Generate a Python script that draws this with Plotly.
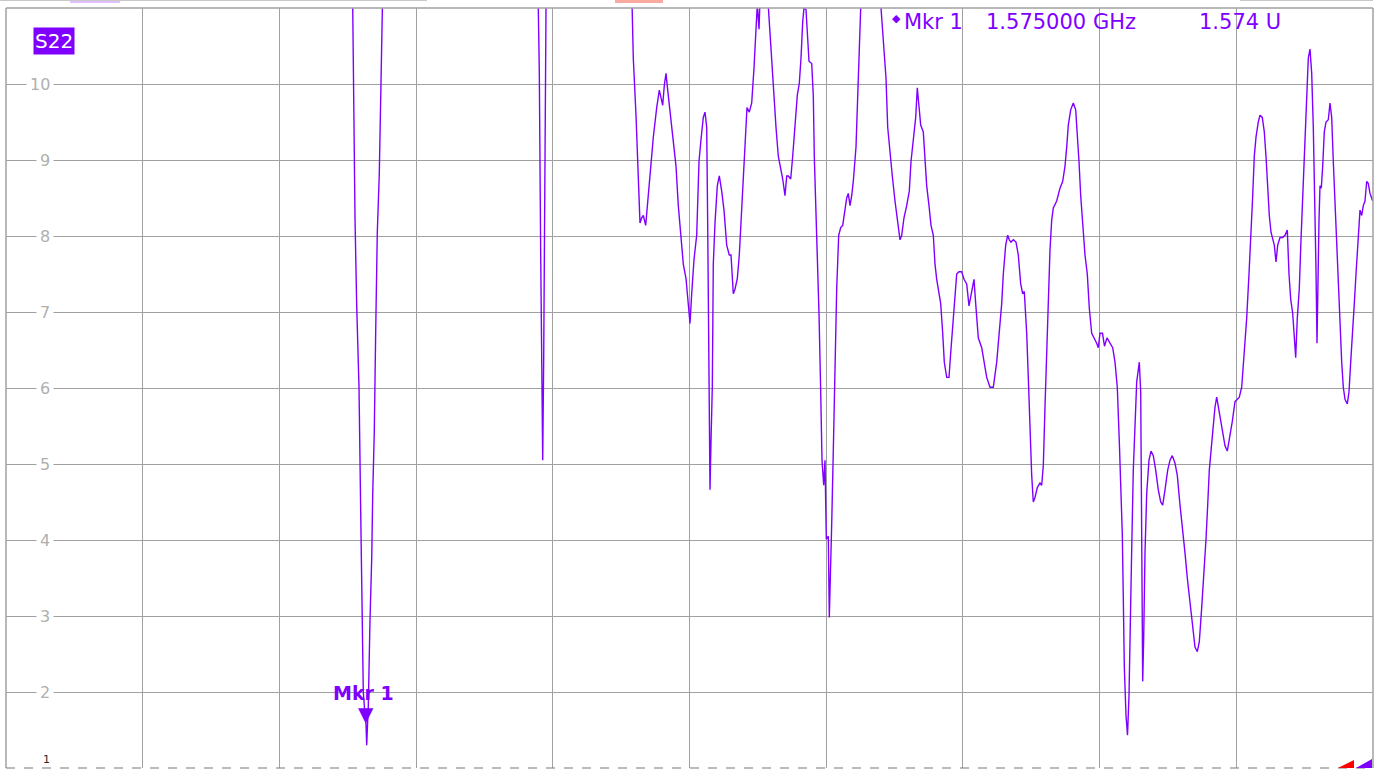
import plotly.graph_objects as go

# ---- data (frequency in MHz, S22 in U) ----
freq_mhz = [
    855, 1500, 1546,
    1548.4, 1549.6, 1553, 1556.4, 1561, 1564.4, 1567.6, 1569.6, 1573, 1575, 1576.4,
    1579.6, 1583, 1586.4, 1588.4, 1591.6, 1594.4, 1597.6, 1601.6, 1604.4, 1607.6,
    1612, 1700, 1860, 1916,
    1919.6, 1921.6, 1924.4, 1927, 1928.4, 1930.4, 1932.4, 1935,
    1940, 2050, 2102,
    2106.4, 2109.6, 2115, 2119.6, 2123, 2126.4, 2129.6, 2134.4, 2138.4, 2144.4,
    2149.6, 2156.4, 2161.6, 2165, 2168.4, 2171.6, 2175, 2178.4, 2183, 2188.4,
    2195, 2199.6, 2205, 2209.6, 2215, 2219.6, 2223, 2226.4, 2231, 2236.4,
    2241, 2245, 2249.6, 2253, 2256.4, 2258.4, 2261, 2263, 2265, 2267.6,
    2269.6, 2273, 2277.6, 2281.6, 2286.4, 2291, 2296.4, 2301.6, 2305, 2309.6,
    2313, 2317.6, 2321.6, 2326.4, 2331.6, 2337, 2341.6, 2346.4, 2351, 2355,
    2357.6, 2361, 2365, 2375, 2379.6, 2384.4, 2389.6, 2395, 2399.6, 2404.4,
    2408.4, 2413, 2416.4, 2419.6, 2424.4, 2428.4, 2433, 2437.6, 2441.6, 2445,
    2448.4, 2451, 2455, 2457.6, 2461, 2466.4, 2469.6, 2471.6, 2475, 2477.6,
    2481, 2484.4, 2487, 2490.4, 2493, 2495.6, 2499.6, 2501.6, 2503.6, 2506.4,
    2509.6, 2513, 2516.4, 2520.4, 2524.4, 2528.4, 2533, 2536.4, 2539.6, 2543,
    2546.4, 2549.6, 2555, 2558.4, 2561, 2564.4, 2572, 2596,
    2605, 2609.6, 2615, 2618.4, 2623, 2627.6, 2633, 2637.6, 2643, 2646.4,
    2651, 2656.4, 2661.6, 2665, 2669.6, 2674.4, 2677.6, 2680.4, 2684.4, 2689.6,
    2693, 2696.4, 2701, 2705, 2709.6, 2713, 2716.4, 2721, 2724.4, 2728.4,
    2731.6, 2736.4, 2741, 2744.4, 2748.4, 2753, 2756.4, 2761, 2766.4, 2771,
    2776.4, 2781, 2786.4, 2791, 2794.4, 2799.6, 2806.4, 2811, 2816.4, 2823,
    2829.6, 2836.4, 2841.6, 2846.4, 2849.6, 2854.4, 2858.4, 2861.6, 2865, 2869.6,
    2875, 2879.6, 2884.4, 2888.4, 2891.6, 2896.4, 2899.6, 2903, 2906.4, 2909.6,
    2913, 2917.6, 2923, 2926.4, 2929.6, 2933, 2936.4, 2939.6, 2943, 2946.4,
    2949.6, 2956.4, 2963, 2968.4, 2973, 2976.4, 2979.6, 2984.4, 2989.6, 2994.4,
    2997.6, 3001, 3004.4, 3008.4, 3013, 3017.6, 3021.6, 3026.4, 3031.6, 3036.4,
    3039.6, 3043, 3048, 3052, 3057, 3063, 3068.4, 3073, 3077.6, 3081.6,
    3085, 3087.6, 3089.6, 3091.6, 3095, 3098, 3101, 3103, 3106.4, 3109.6,
    3113, 3116.4, 3119, 3121.6, 3124.4, 3126.4, 3128.4, 3130.4, 3133, 3136.4,
    3141, 3145, 3149.6, 3154.4, 3159.6, 3164.4, 3168.4, 3173, 3178.4, 3183,
    3187.6, 3193, 3197.6, 3203, 3208.4, 3213, 3217.6, 3223, 3228.4, 3233,
    3237.6, 3241.6, 3246.4, 3251, 3255, 3258.4, 3261.6, 3265, 3269.6, 3273,
    3276.4, 3281, 3286.4, 3293, 3297.6, 3303, 3307.6, 3313, 3317.6, 3321.6,
    3326.4, 3331, 3336.4, 3341, 3345, 3348.4, 3351.6, 3355, 3359.6, 3363,
    3367.6, 3371.6, 3375, 3378.4, 3381.6, 3385, 3388.4, 3391.6, 3395, 3398.4,
    3403, 3408.4, 3413, 3417.6, 3421, 3424.4, 3428.4, 3431.6, 3434.4, 3437.6,
    3441.6, 3445, 3449.6, 3453, 3456.4, 3459.6, 3463, 3466.4, 3469.6, 3473,
    3475, 3477, 3479, 3481, 3483, 3485.6, 3488.4, 3491.6, 3495, 3499.6,
    3503, 3506.4, 3509.6, 3513, 3516.4, 3519.6, 3523, 3526.4, 3529.6, 3533,
    3537.6, 3541, 3544.4, 3548.4, 3551.6, 3555, 3559.6, 3563, 3566.4, 3569.6,
    3573, 3576.4, 3579.6, 3583, 3588.4,
]

s22_u = [
    13.5, 13.5, 12.5,
    11.0, 9.53, 8.24, 7.08, 6.01, 4.37, 2.88, 2.0, 1.7, 1.574, 1.30,
    1.82, 2.95, 3.75, 4.59, 5.43, 6.75, 8.05, 8.82, 9.85, 11.0,
    12.5, 13.5, 13.5, 12.5,
    11.0, 10.17, 7.75, 6.4, 5.05, 6.4, 9.17, 11.0,
    12.5, 13.5, 12.5,
    11.0, 10.34, 9.59, 8.75, 8.17, 8.24, 8.27, 8.14, 8.46, 8.98,
    9.30, 9.69, 9.92, 9.82, 9.72, 9.98, 10.14, 9.92, 9.63, 9.30,
    8.92, 8.40, 7.95, 7.63, 7.44, 7.11, 6.85, 7.24, 7.69, 8.01,
    8.98, 9.27, 9.56, 9.63, 9.43, 8.14, 5.95, 4.66, 5.30, 6.01,
    7.63, 8.17, 8.66, 8.79, 8.59, 8.34, 7.88, 7.75, 7.75, 7.24,
    7.30, 7.44, 7.75, 8.34, 8.92, 9.69, 9.63, 9.75, 10.21, 10.82,
    11.05, 10.72, 11.5, 11.5, 11.0, 10.45, 10.01, 9.43, 9.05, 8.88,
    8.75, 8.53, 8.79, 8.79, 8.75, 9.05, 9.50, 9.85, 10.01, 10.34,
    10.82, 11.0, 10.98, 10.72, 10.30, 10.27, 9.85, 9.05, 8.40, 7.63,
    6.98, 5.95, 5.05, 4.72, 5.05, 4.01, 4.05, 2.98, 3.43, 4.21,
    5.17, 6.34, 7.31, 8.01, 8.11, 8.14, 8.34, 8.50, 8.56, 8.40,
    8.53, 8.72, 9.17, 9.82, 10.53, 11.0, 12.0, 12.0,
    11.0, 10.59, 10.08, 9.43, 9.05, 8.79, 8.46, 8.21, 7.95, 8.01,
    8.24, 8.40, 8.59, 8.98, 9.30, 9.56, 9.95, 9.75, 9.46, 9.37,
    8.98, 8.66, 8.40, 8.14, 8.01, 7.63, 7.43, 7.24, 7.11, 6.72,
    6.34, 6.14, 6.14, 6.46, 6.85, 7.30, 7.50, 7.53, 7.53, 7.43,
    7.37, 7.08, 7.30, 7.43, 7.11, 6.66, 6.53, 6.34, 6.14, 6.01,
    6.01, 6.34, 6.72, 7.11, 7.50, 7.88, 8.01, 7.95, 7.92, 7.95,
    7.92, 7.75, 7.37, 7.24, 7.27, 6.72, 6.14, 5.43, 4.85, 4.50,
    4.56, 4.69, 4.75, 4.72, 4.98, 5.75, 6.53, 7.37, 7.82, 8.21,
    8.37, 8.46, 8.63, 8.72, 8.92, 9.17, 9.46, 9.66, 9.75, 9.66,
    9.37, 8.98, 8.53, 8.14, 7.75, 7.50, 7.05, 6.72, 6.66, 6.59,
    6.53, 6.72, 6.72, 6.55, 6.66, 6.59, 6.53, 6.34, 6.01, 5.30,
    4.66, 4.08, 3.24, 2.34, 1.69, 1.43, 1.95, 2.86, 3.88, 4.92,
    5.56, 6.08, 6.21, 6.34, 5.95, 3.83, 2.14, 2.72, 3.83, 4.61,
    5.05, 5.17, 5.11, 4.92, 4.66, 4.50, 4.46, 4.66, 4.92, 5.05,
    5.11, 5.01, 4.85, 4.46, 4.14, 3.83, 3.50, 3.17, 2.79, 2.59,
    2.53, 2.66, 3.11, 3.56, 4.01, 4.46, 4.92, 5.17, 5.50, 5.75,
    5.88, 5.69, 5.50, 5.24, 5.17, 5.37, 5.56, 5.82, 5.85, 5.88,
    6.01, 6.40, 6.92, 7.50, 8.01, 8.53, 9.05, 9.30, 9.50, 9.59,
    9.56, 9.37, 9.05, 8.59, 8.27, 8.05, 7.95, 7.88, 7.66, 7.88,
    7.98, 7.98, 8.01, 8.08, 7.50, 7.17, 6.98, 6.59, 6.40, 6.92,
    7.31, 7.95, 8.66, 9.24, 9.82, 10.34, 10.46, 10.14, 9.43, 8.40,
    7.56, 6.59, 7.75, 8.21, 8.66, 8.63, 8.92, 9.37, 9.50, 9.53,
    9.75, 9.56, 8.98, 8.40, 7.88, 7.30, 6.72, 6.34, 6.01, 5.85,
    5.79, 5.95, 6.34, 6.72, 7.11, 7.50, 7.95, 8.34, 8.27, 8.40,
    8.46, 8.72, 8.69, 8.56, 8.46,
]

start_mhz = 855
stop_mhz = 3589
y_min = 1
y_max = 11
y_tick_values = [2, 3, 4, 5, 6, 7, 8, 9, 10]
y_tick_labels = ["2", "3", "4", "5", "6", "7", "8", "9", "10"]

marker_freq_mhz = 1575
marker_value = 1.574
marker_freq_text = "1.575000 GHz"
marker_value_text = "1.574 U"

PURPLE = "rgb(128,0,255)"
GRID = "rgb(160,160,160)"
FONT = "DejaVu Sans"

fig = go.Figure()
fig.add_trace(go.Scatter(
    x=freq_mhz, y=s22_u, mode="lines",
    line=dict(color=PURPLE, width=1.4),
    hoverinfo="skip", showlegend=False,
))

W, H = 1386, 769
ml, mr, mt, mb = 6, 13, 8, 1
pw = W - ml - mr
ph = H - mt - mb

def px_x(p):
    return (p - ml) / pw

fig.update_layout(
    width=W, height=H,
    margin=dict(l=ml, r=mr, t=mt, b=mb, pad=0),
    paper_bgcolor="white", plot_bgcolor="white",
    showlegend=False,
    xaxis=dict(range=[start_mhz, stop_mhz], tick0=start_mhz,
               dtick=(stop_mhz - start_mhz) / 10, showticklabels=False,
               showgrid=True, gridcolor=GRID, gridwidth=1.4,
               zeroline=False, showline=False, fixedrange=True),
    yaxis=dict(range=[y_min, y_max], tick0=y_min, dtick=1,
               showticklabels=False, showgrid=True, gridcolor=GRID,
               gridwidth=1.4, zeroline=False, showline=False, fixedrange=True),
)

shapes = [
    dict(type="line", xref="paper", yref="paper", x0=0, x1=0, y0=0, y1=1,
         line=dict(color=GRID, width=1.5)),
    dict(type="line", xref="paper", yref="paper", x0=1, x1=1, y0=0, y1=1,
         line=dict(color=GRID, width=1.5)),
    dict(type="line", xref="paper", yref="paper", x0=0, x1=1, y0=1, y1=1,
         line=dict(color=GRID, width=1.5)),
    dict(type="line", xref="paper", yref="paper", x0=0, x1=1, y0=0, y1=0,
         line=dict(color="rgb(120,120,120)", width=1.2, dash="dash")),
    # bottom-right channel indicators
    dict(type="path", xref="paper", yref="paper",
         path=f"M {px_x(1338)},0 L {px_x(1354)},{8/ph} L {px_x(1354)},0 Z",
         fillcolor="red", line=dict(width=0)),
    dict(type="path", xref="paper", yref="paper",
         path=f"M {px_x(1356)},0 L {px_x(1372)},{9/ph} L {px_x(1372)},0 Z",
         fillcolor=PURPLE, line=dict(width=0)),
    # top strip remnants
    dict(type="rect", xref="paper", yref="paper", x0=px_x(70), x1=px_x(120),
         y0=1 + 5/ph, y1=1 + 9/ph, fillcolor="rgb(225,190,255)", line=dict(width=0)),
    dict(type="rect", xref="paper", yref="paper", x0=px_x(615), x1=px_x(663),
         y0=1 + 5/ph, y1=1 + 9/ph, fillcolor="rgb(250,170,160)", line=dict(width=0)),
    dict(type="line", xref="paper", yref="paper", x0=px_x(0), x1=px_x(427),
         y0=1 + 7.5/ph, y1=1 + 7.5/ph, line=dict(color="rgb(200,200,200)", width=1)),
    dict(type="line", xref="paper", yref="paper", x0=px_x(1240), x1=px_x(1373),
         y0=1 + 7.5/ph, y1=1 + 7.5/ph, line=dict(color="rgb(200,200,200)", width=1)),
]
fig.update_layout(shapes=shapes)

ann = []
for v, lab in zip(y_tick_values, y_tick_labels):
    ann.append(dict(x=px_x(54), xref="paper", y=v, yref="y", text=lab,
                    showarrow=False, xanchor="right", yanchor="middle",
                    font=dict(family=FONT, size=16, color="rgb(175,175,175)"),
                    bgcolor="white", borderpad=3))
ann.append(dict(x=px_x(51), xref="paper", y=y_min, yref="y", text="1",
                showarrow=False, xanchor="right", yanchor="bottom", yshift=1,
                font=dict(family=FONT, size=11, color="rgb(40,40,40)"),
                bgcolor="white", borderpad=0))
# S22 trace label
ann.append(dict(x=px_x(33), xref="paper", y=y_max, yref="y", yshift=-19,
                text="S22", showarrow=False, xanchor="left", yanchor="top",
                font=dict(family=FONT, size=20, color="white"),
                bgcolor=PURPLE, borderpad=1))
# marker readout
ann.append(dict(x=px_x(890), xref="paper", y=y_max, yref="y", yshift=-2,
                text="\u25C6", showarrow=False, xanchor="left", yanchor="top",
                font=dict(family=FONT, size=11, color=PURPLE)))
ann.append(dict(x=px_x(902), xref="paper", y=y_max, yref="y",
                text="Mkr 1", showarrow=False, xanchor="left", yanchor="top",
                font=dict(family=FONT, size=21, color=PURPLE)))
ann.append(dict(x=px_x(984), xref="paper", y=y_max, yref="y",
                text=marker_freq_text, showarrow=False, xanchor="left", yanchor="top",
                font=dict(family=FONT, size=21, color=PURPLE)))
ann.append(dict(x=px_x(1197), xref="paper", y=y_max, yref="y",
                text=marker_value_text, showarrow=False, xanchor="left", yanchor="top",
                font=dict(family=FONT, size=21, color=PURPLE)))
# marker on trace
ann.append(dict(x=marker_freq_mhz, y=marker_value, xref="x", yref="y",
                text="\u25BC", showarrow=False, xanchor="center", yanchor="bottom",
                yshift=-4,
                font=dict(family=FONT, size=20, color=PURPLE)))
ann.append(dict(x=marker_freq_mhz, y=marker_value, xref="x", yref="y",
                text="<b>Mkr 1</b>", showarrow=False, xanchor="center", yanchor="bottom",
                xshift=-3, yshift=18,
                font=dict(family=FONT, size=19, color=PURPLE)))
fig.update_layout(annotations=ann)

fig.write_html("out.html", config={"displayModeBar": False},
               post_script="document.body.style.margin='0';document.body.style.overflow='hidden';")
